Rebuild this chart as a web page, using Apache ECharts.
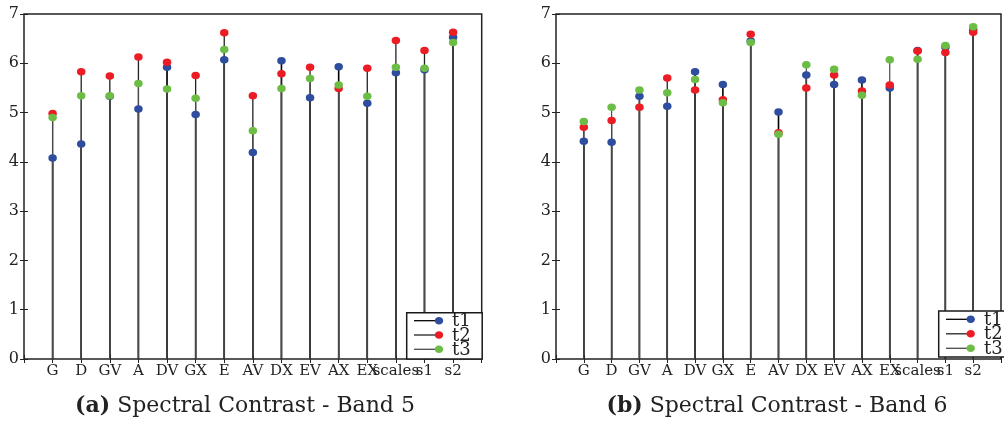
<!DOCTYPE html>
<html><head><meta charset="utf-8">
<script src="https://cdn.jsdelivr.net/npm/echarts@6/dist/echarts.min.js"></script>
<style>html,body{margin:0;padding:0;background:#fff}#c{width:1004px;height:425px}</style>
</head><body><div id="c"></div>
<script>
const categories = ['G','D','GV','A','DV','GX','E','AV','DX','EV','AX','EX','scales','s1','s2'];
const seriesNames = ['t1','t2','t3'];
const yTicks = [0,1,2,3,4,5,6,7];
// Panel (a) Spectral Contrast - Band 5
const a_t1 = [4.08,4.36,5.33,5.07,5.92,4.96,6.07,4.19,6.05,5.30,5.93,5.19,5.81,5.87,6.53];
const a_t2 = [4.98,5.83,5.74,6.13,6.02,5.75,6.62,5.34,5.79,5.92,5.49,5.90,6.46,6.26,6.63];
const a_t3 = [4.90,5.34,5.34,5.59,5.48,5.29,6.28,4.63,5.49,5.69,5.56,5.33,5.92,5.90,6.42];
// Panel (b) Spectral Contrast - Band 6
const b_t1 = [4.42,4.40,5.33,5.13,5.83,5.57,6.45,5.01,5.76,5.57,5.66,5.50,6.26,6.33,6.68];
const b_t2 = [4.70,4.84,5.11,5.70,5.46,5.26,6.59,4.59,5.50,5.76,5.44,5.56,6.25,6.22,6.63];
const b_t3 = [4.82,5.11,5.46,5.40,5.67,5.20,6.42,4.56,5.97,5.88,5.35,6.07,6.08,6.36,6.74];
const captionA = 'Spectral Contrast - Band 5';
const captionB = 'Spectral Contrast - Band 6';

const FONT = 'DejaVu Serif';
const dotColors = ['#2e4d9e','#ec1c24','#6cbd45'];
const stemColors = ['#000','#222','#4a4a4a'];
const stemWidths = [1.6,1.3,1.2];
const AXC = '#222';

const chart = echarts.init(document.getElementById('c'), null, {renderer:'canvas'});

function xAxes(g){
  return [
    {gridIndex:g, type:'value', min:0, max:categories.length+1, interval:1,
     axisLine:{show:false}, splitLine:{show:false},
     axisTick:{inside:true, length:4, lineStyle:{color:AXC}},
     axisLabel:{fontFamily:FONT, fontSize:15, color:'#222', margin:5,
       formatter:v=>categories[v-1]||''}},
    {gridIndex:g, type:'value', position:'top', min:0, max:categories.length+1, interval:1,
     axisLine:{show:false}, splitLine:{show:false}, axisLabel:{show:false},
     axisTick:{inside:true, length:4, lineStyle:{color:AXC}}}
  ];
}
function yAxes(g){
  return [
    {gridIndex:g, type:'value', min:yTicks[0], max:yTicks[yTicks.length-1], interval:1,
     axisLine:{show:false}, splitLine:{show:false},
     axisTick:{inside:true, length:4, lineStyle:{color:AXC}},
     axisLabel:{fontFamily:FONT, fontSize:16, color:'#222', margin:5}},
    {gridIndex:g, type:'value', position:'right', min:yTicks[0], max:yTicks[yTicks.length-1], interval:1,
     axisLine:{show:false}, splitLine:{show:false}, axisLabel:{show:false},
     axisTick:{inside:true, length:4, lineStyle:{color:AXC}}}
  ];
}
function stem(data, xi, yi, k){
  return {type:'custom', name:'stem'+k, xAxisIndex:xi, yAxisIndex:yi, silent:true, z:1,
    data:data.map((v,i)=>[i+1,v]),
    renderItem:(p,api)=>{
      const p0=api.coord([api.value(0),0]);
      const p1=api.coord([api.value(0),api.value(1)]);
      return {type:'line', shape:{x1:p0[0],y1:p0[1],x2:p1[0],y2:p1[1]},
        style:{stroke:stemColors[k], lineWidth:stemWidths[k]}};
    }};
}
function dots(data, xi, yi, k){
  return {type:'scatter', name:seriesNames[k], xAxisIndex:xi, yAxisIndex:yi, z:3+k,
    symbol:'circle', symbolSize:[8.5,7.5], silent:true,
    itemStyle:{color:dotColors[k], opacity:1},
    data:data.map((v,i)=>[i+1,v])};
}
// hand-built legend box (line + marker + real text)
function legendBox(x, y, w, h, lineX1, lineX2, dotX, textX, y0, step){
  const els=[{type:'rect', z:200, silent:true, shape:{x:x,y:y,width:w,height:h},
    style:{fill:'#fff', stroke:'#1a1a1a', lineWidth:1.5}}];
  seriesNames.forEach((n,k)=>{
    const yy=y0+k*step;
    els.push({type:'line', z:201, silent:true, shape:{x1:lineX1,y1:yy,x2:lineX2,y2:yy},
      style:{stroke:stemColors[k], lineWidth:1.3}});
    els.push({type:'ellipse', z:202, silent:true, shape:{cx:dotX,cy:yy,rx:4.2,ry:3.8},
      style:{fill:dotColors[k]}});
    els.push({type:'text', z:202, silent:true, x:textX, y:yy+1,
      style:{text:n, font:'18px '+FONT, fill:'#222', textAlign:'left', textVerticalAlign:'middle'}});
  });
  return els;
}
const A=[a_t1,a_t2,a_t3], B=[b_t1,b_t2,b_t3];
const series=[];
A.forEach((d,k)=>series.push(stem(d,0,0,k)));
B.forEach((d,k)=>series.push(stem(d,2,2,k)));
A.forEach((d,k)=>series.push(dots(d,0,0,k)));
B.forEach((d,k)=>series.push(dots(d,2,2,k)));

chart.setOption({
  animation:false,
  backgroundColor:'#fff',
  grid:[
    {left:24, top:14, width:457.7, height:345, show:true, borderColor:AXC, borderWidth:1.5, backgroundColor:'transparent'},
    {left:556, top:14, width:458.7, height:345, show:true, borderColor:AXC, borderWidth:1.5, backgroundColor:'transparent'}
  ],
  xAxis:[...xAxes(0), ...xAxes(1)],
  yAxis:[...yAxes(0), ...yAxes(1)],
  series:series,
  graphic:[
    ...legendBox(406.7,312.7,75.5,46.3, 414,436, 439, 452, 320.7, 14.3),
    ...legendBox(938.7,311,80,46, 946,968, 970.7, 984, 319.3, 14.5),
    {type:'text', x:245, y:395, z:100, style:{text:'{b|(a)} '+captionA, textAlign:'center', textVerticalAlign:'top',
      font:'22px '+FONT, fill:'#222', rich:{b:{fontFamily:FONT, fontSize:22, fontWeight:'bold', fill:'#222'}}}},
    {type:'text', x:777, y:395, z:100, style:{text:'{b|(b)} '+captionB, textAlign:'center', textVerticalAlign:'top',
      font:'22px '+FONT, fill:'#222', rich:{b:{fontFamily:FONT, fontSize:22, fontWeight:'bold', fill:'#222'}}}}
  ]
});
</script></body></html>
